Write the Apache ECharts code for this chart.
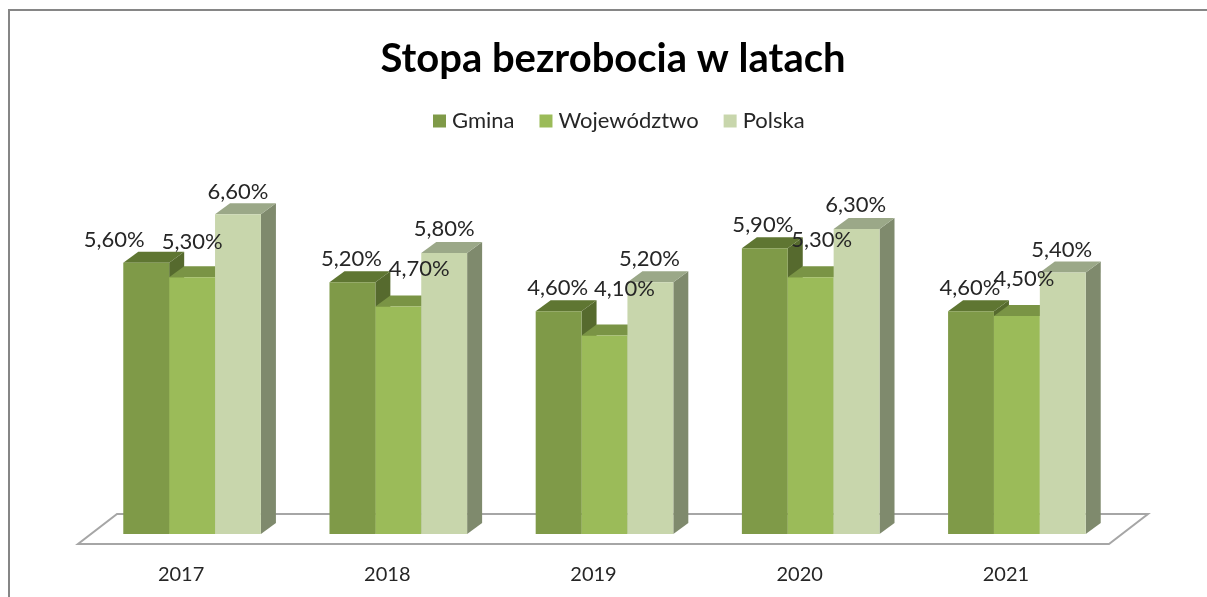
<!DOCTYPE html>
<html><head><meta charset="utf-8">
<style>html,body{margin:0;padding:0;background:#fff;overflow:hidden}#c{width:1207px;height:597px}</style>
<script src="https://cdn.jsdelivr.net/npm/echarts@6/dist/echarts.min.js"></script>
</head><body><div id="c"></div>
<script>
const years = ['2017','2018','2019','2020','2021'];
const gmina = [5.6,5.2,4.6,5.9,4.6];
const wojewodztwo = [5.3,4.7,4.1,5.3,4.5];
const polska = [6.6,5.8,5.2,6.3,5.4];

const FONT = 'Lato, Carlito, "Open Sans", sans-serif';
const DEPTH_X = 15, DEPTH_Y = 11, BAR_SHARE = 0.2225, GROUP_SHIFT = 11;

// hand placement of the data labels (separate from the values)
const labelNudge = {
  Gmina:       {dx:[-32,-1,-1,-2,-1], dy:[-23,-23,-23,-23,-23]},
  'Województwo':{dx:[0,21,20,11,7],   dy:[-35,-37,-47,-37,-37]},
  Polska:      {dx:[0,0,-1,-1,-1],    dy:[-22,-24,-23,-24,-23]}
};
const groups = [
  {name:'Gmina', values:gmina, slot:-1, front:'#7F9A48', top:'#5F7632', side:'#566A2E'},
  {name:'Województwo', values:wojewodztwo, slot:0, front:'#9BBB59', top:'#7A9445', side:'#6C843F'},
  {name:'Polska', values:polska, slot:1, front:'#C8D6AC', top:'#9BA888', side:'#7F8A6D'}
];

function pct(v){ return v.toFixed(2).replace('.',',') + '%'; }

function barRender(g){
  return function(params, api){
    const top = api.coord([api.value(0), api.value(1)]);
    const base = api.coord([api.value(0), 0]);
    const band = api.size([1,0])[0];
    const w = band*BAR_SHARE;
    const x0 = top[0] + GROUP_SHIFT + g.slot*w - w/2, x1 = x0 + w;
    const yt = top[1], yb = base[1];
    return {type:'group', children:[
      {type:'polygon', shape:{points:[[x1,yt],[x1+DEPTH_X,yt-DEPTH_Y],[x1+DEPTH_X,yb-DEPTH_Y],[x1,yb]]}, style:{fill:g.side}},
      {type:'polygon', shape:{points:[[x0,yt],[x0+DEPTH_X,yt-DEPTH_Y],[x1+DEPTH_X,yt-DEPTH_Y],[x1,yt]]}, style:{fill:g.top}},
      {type:'rect', shape:{x:x0,y:yt,width:w,height:yb-yt}, style:{fill:g.front}}
    ]};
  };
}
function labelRender(g){
  const n = labelNudge[g.name];
  return function(params, api){
    const top = api.coord([api.value(0), api.value(1)]);
    const w = api.size([1,0])[0]*BAR_SHARE;
    const i = params.dataIndex;
    return {type:'text', style:{
      text:pct(api.value(1)), x:top[0]+GROUP_SHIFT+g.slot*w+n.dx[i], y:top[1]+n.dy[i],
      align:'center', verticalAlign:'middle', textAlign:'center', textVerticalAlign:'middle',
      fill:'#262626', font:'22px '+FONT
    }};
  };
}
function floorRender(params){
  const c = params.coordSys, yb = c.y+c.height;
  return {type:'polygon', shape:{points:[
    [c.x, yb+10],[c.x+c.width, yb+10],[c.x+c.width+39, yb-20],[c.x+39, yb-20]
  ]}, style:{fill:'#fff', stroke:'#A6A6A6', lineWidth:2}};
}

const series = [{type:'custom', name:'floor', silent:true, z:1, renderItem:floorRender, data:[[0,0]]}];
groups.forEach(g=>{
  series.push({type:'custom', name:g.name, z:2, silent:true, itemStyle:{color:g.front},
    encode:{x:0,y:1}, renderItem:barRender(g), data:g.values.map((v,i)=>[i,v])});
});
groups.forEach(g=>{
  series.push({type:'custom', name:g.name+' etykiety', z:5, silent:true,
    encode:{x:0,y:1}, renderItem:labelRender(g), data:g.values.map((v,i)=>[i,v])});
});

const chart = echarts.init(document.getElementById('c'), null, {renderer:'canvas'});
chart.setOption({
  animation:false,
  backgroundColor:'#fff',
  title:{text:'Stopa bezrobocia w latach', left:608, top:34, textAlign:'center',
    textStyle:{fontFamily:FONT, fontSize:40, fontWeight:'bold', color:'#000'}},
  legend:{data:groups.map(g=>g.name), left:428, top:105, icon:'rect', itemWidth:13, itemHeight:13, itemGap:25,
    textStyle:{fontFamily:FONT, fontSize:22, color:'#262626', padding:[0,0,0,1]}},
  grid:{left:78, width:1031, top:195, height:339},
  xAxis:{type:'category', data:years, axisLine:{show:false}, axisTick:{show:false}, splitLine:{show:false},
    axisLabel:{fontFamily:FONT, fontSize:20, color:'#262626', margin:31}},
  yAxis:{type:'value', min:0, max:7, show:false, splitLine:{show:false}},
  graphic:[{type:'polyline', silent:true, shape:{points:[[9,600],[9,10],[1210,10]]},
    style:{fill:null, stroke:'#868686', lineWidth:2}}],
  series
});
</script></body></html>
